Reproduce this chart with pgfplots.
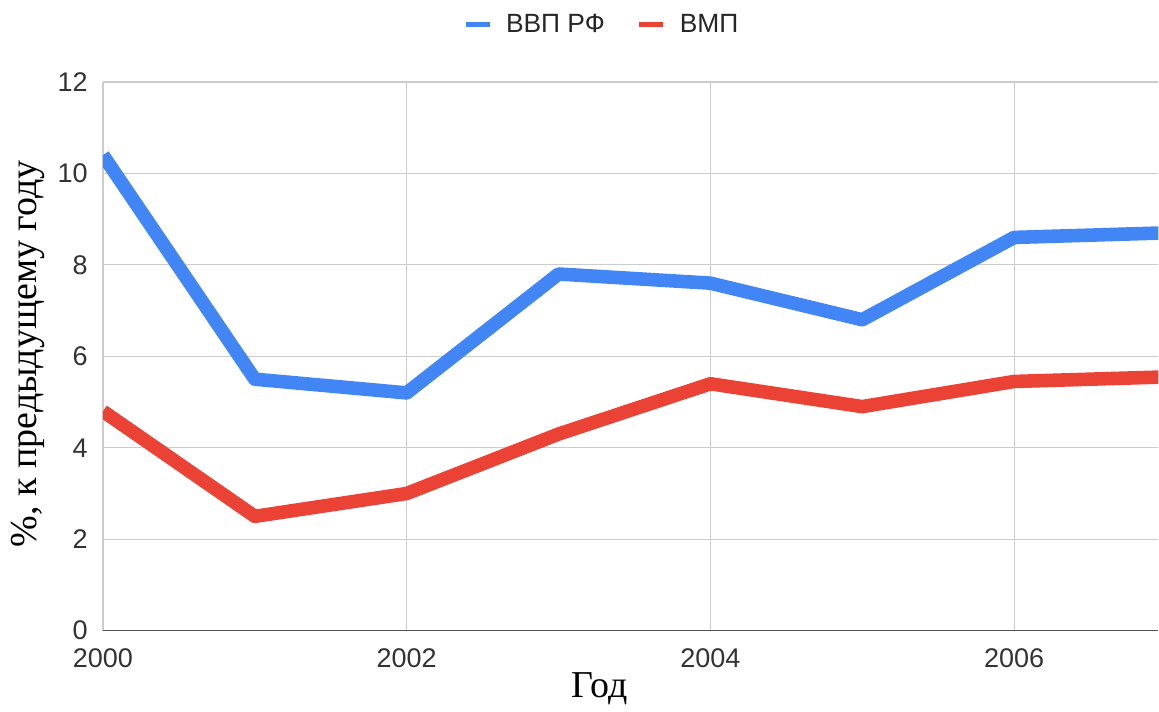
\documentclass[border=0pt]{standalone}
\usepackage{pgfplots}
\pgfplotsset{compat=1.18}
\usepackage{fontspec}
\setmainfont{Liberation Sans}
\newfontfamily\serif{Liberation Serif}

\definecolor{gblue}{RGB}{66,133,244}
\definecolor{gred}{RGB}{234,67,53}
\definecolor{gridgray}{RGB}{204,204,204}
\definecolor{axisgray}{RGB}{80,80,80}

\pgfplotstableread{
year gdp vmp
2000 10.4 4.8
2001 5.5 2.5
2002 5.2 3.0
2003 7.8 4.3
2004 7.6 5.4
2005 6.8 4.9
2006 8.6 5.45
2007 8.7 5.55
}\growth

\begin{document}
\begin{tikzpicture}
\begin{axis}[
  at={(0,0)}, anchor=south west,
  scale only axis,
  width=528pt, height=274.5pt,
  xmin=2000, xmax=2006.95,
  ymin=0, ymax=12,
  xtick={2000,2002,2004,2006},
  ytick={0,2,4,6,8,10,12},
  xticklabel style={/pgf/number format/1000 sep={}},
  /pgf/number format/assume math mode=true,
  tick label style={font=\fontsize{13.5}{15}\selectfont, color=black!80},
  xticklabel style={anchor=center, yshift=-14pt},
  yticklabel style={anchor=east, inner sep=0pt, xshift=-7.5pt},
  major tick length=0pt,
  grid=major,
  major grid style={gridgray, line width=0.6pt},
  axis line style={draw=none},
  legend columns=2,
  legend style={draw=none, fill=none,
    at={(0.4735,1)}, anchor=center, yshift=28.5pt,
    font=\fontsize{13.2}{15}\selectfont, text=black!85,
    /tikz/every odd column/.append style={column sep=5pt},
    /tikz/every even column/.append style={column sep=14pt}},
  legend image code/.code={\draw[#1, line width=2.5pt, line cap=butt] (0pt,0pt) -- (12pt,0pt);},
  clip=true,
]
\addplot[gblue, line width=6.8pt, line join=round] table[x=year, y=gdp] {\growth};
\addlegendentry{ВВП РФ}
\addplot[gred, line width=6.8pt, line join=round] table[x=year, y=vmp] {\growth};
\addlegendentry{ВМП}
\draw[axisgray, line width=0.8pt] (rel axis cs:0,0) -- (rel axis cs:1,0);
\coordinate (ll) at (rel axis cs:0,0);
\end{axis}
\node[font=\serif\fontsize{19}{22}\selectfont, anchor=base] at ([shift={(248.5pt,-33.5pt)}]ll) {Год};
\node[font=\serif\fontsize{19}{22}\selectfont, rotate=90, anchor=center] at ([shift={(-37.5pt,138.5pt)}]ll) {\%, к предыдущему году};
\useasboundingbox ([shift={(-51.5pt,-35.5pt)}]ll) rectangle ([shift={(528pt,315.5pt)}]ll);
\end{tikzpicture}
\end{document}
